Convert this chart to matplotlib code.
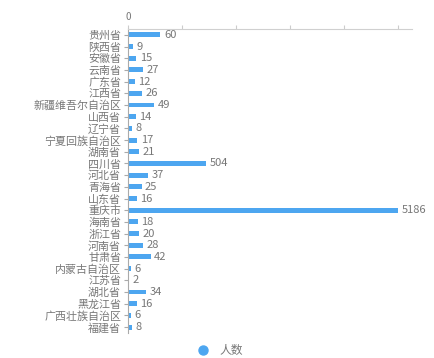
import numpy as np
import matplotlib.pyplot as plt
from matplotlib.lines import Line2D

plt.rcParams['font.family'] = ['Noto Sans CJK SC', 'DejaVu Sans']
plt.rcParams['axes.unicode_minus'] = False

# 数据
provinces = ['贵州省', '陕西省', '安徽省', '云南省', '广东省', '江西省', '新疆维吾尔自治区',
             '山西省', '辽宁省', '宁夏回族自治区', '湖南省', '四川省', '河北省', '青海省',
             '山东省', '重庆市', '海南省', '浙江省', '河南省', '甘肃省', '内蒙古自治区',
             '江苏省', '湖北省', '黑龙江省', '广西壮族自治区', '福建省']
counts = [60, 9, 15, 27, 12, 26, 49, 14, 8, 17, 21, 504, 37, 25, 16, 5186,
          18, 20, 28, 42, 6, 2, 34, 16, 6, 8]

# 分段刻度（原图坐标轴不均匀）
break_vals = [0, 100, 1000, 5186, 20000]
break_pos = [0, 1, 2, 5, 5 + (20000 - 5186) / (4186 / 3)]
x_ticks = [0, 100, 1000, 2395, 3791, 5186]


def fwd(v):
    return np.interp(v, break_vals, break_pos)


def inv(p):
    return np.interp(p, break_pos, break_vals)


bar_color = '#4da6f0'
text_color = '#777777'

fig = plt.figure(figsize=(4.34, 3.58), dpi=100)
ax = fig.add_axes([0.295, 0.07, 0.654, 0.849])

ax.set_xscale('function', functions=(fwd, inv))
y = np.arange(len(provinces))
ax.barh(y, counts, height=0.42, color=bar_color)
ax.set_xlim(0, inv(5.26))
ax.set_ylim(len(provinces) - 0.5, -0.5)

for yi, c in zip(y, counts):
    ax.annotate(str(c), (c, yi), xytext=(2.5, 0), textcoords='offset points',
                va='center', ha='left', fontsize=8, color=text_color)

ax.set_yticks(y)
ax.set_yticklabels(provinces, fontsize=7.9, color=text_color)
ax.xaxis.tick_top()
ax.set_xticks(x_ticks)
ax.set_xticklabels(['0', '', '', '', '', ''], fontsize=7, color=text_color)
ax.xaxis.set_minor_locator(plt.NullLocator())
ax.tick_params(axis='x', length=3, color='#cccccc', pad=2)
ax.tick_params(axis='y', length=3, color='#aaaaaa', pad=2)

for side in ['right', 'bottom']:
    ax.spines[side].set_visible(False)
ax.spines['top'].set_color('#d0d0d0')
ax.spines['left'].set_color('#aaaaaa')
ax.spines['top'].set_linewidth(0.8)
ax.spines['left'].set_linewidth(0.8)

handle = Line2D([], [], marker='o', color=bar_color, linestyle='none', markersize=6.5)
fig.legend([handle], ['人数'], loc='center', bbox_to_anchor=(0.50, 0.02),
           frameon=False, fontsize=8.5, labelcolor=text_color, handletextpad=0.4)

plt.savefig('out.png', dpi=100)
